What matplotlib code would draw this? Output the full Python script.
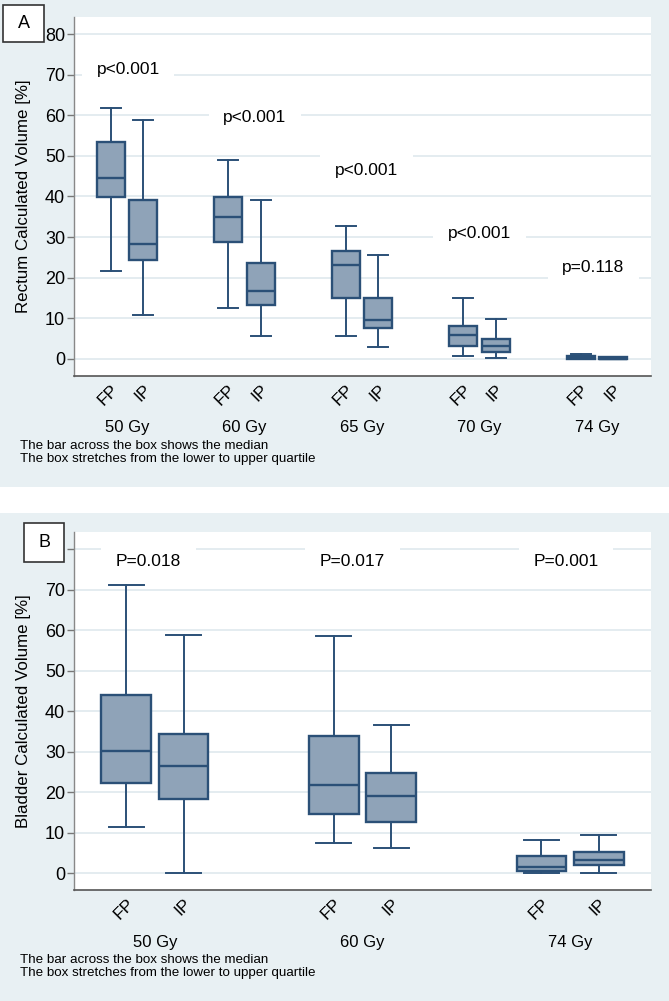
import matplotlib
matplotlib.use("Agg")
import matplotlib.pyplot as plt
from matplotlib.patches import Rectangle
import matplotlib.transforms as mtransforms

plt.rcParams['font.family'] = ['Liberation Sans', 'DejaVu Sans']

# ---------------- Data ----------------
groups_a = ['FP', 'IP']
doses_a = ['50 Gy', '60 Gy', '65 Gy', '70 Gy', '74 Gy']
rect_fp_low = [21.7, 12.5, 5.7, 0.7, 0.0]
rect_fp_q1 = [39.8, 28.8, 14.9, 3.3, 0.0]
rect_fp_med = [44.5, 35.0, 23.1, 5.9, 0.3]
rect_fp_q3 = [53.3, 39.8, 26.7, 8.1, 0.8]
rect_fp_high = [61.9, 48.9, 32.8, 14.9, 1.1]
rect_ip_low = [10.7, 5.7, 3.0, 0.2, 0.0]
rect_ip_q1 = [24.4, 13.3, 7.7, 1.8, 0.0]
rect_ip_med = [28.3, 16.7, 9.6, 3.3, 0.1]
rect_ip_q3 = [39.1, 23.7, 15.1, 4.9, 0.5]
rect_ip_high = [58.9, 39.2, 25.6, 9.9, 0.5]
pvals_a = ['p<0.001', 'p<0.001', 'p<0.001', 'p<0.001', 'p=0.118']

doses_b = ['50 Gy', '60 Gy', '74 Gy']
blad_fp_low = [11.4, 7.6, 0.0]
blad_fp_q1 = [22.4, 14.7, 0.6]
blad_fp_med = [30.3, 21.9, 1.5]
blad_fp_q3 = [44.0, 33.9, 4.3]
blad_fp_high = [71.2, 58.6, 8.2]
blad_ip_low = [0.0, 6.2, 0.2]
blad_ip_q1 = [18.4, 12.7, 2.1]
blad_ip_med = [26.5, 19.2, 3.3]
blad_ip_q3 = [34.4, 24.8, 5.2]
blad_ip_high = [58.8, 36.6, 9.5]
pvals_b = ['P=0.018', 'P=0.017', 'P=0.001']

yticks = [0, 10, 20, 30, 40, 50, 60, 70, 80]
ylabels_a = ['0', '10', '20', '30', '40', '50', '60', '70', '80']
ylabels_b = ['0', '10', '20', '30', '40', '50', '60', '70', '']  # 80 hidden behind "B"

# label placement (layout)
pos_a = [(1.01, 71.2), (2.09, 59.5), (3.04, 46.3), (4.0, 30.8), (4.97, 22.5)]
pos_b = [(0.97, 77.0), (1.95, 77.0), (2.98, 77.0)]

footnote = ["The bar across the box shows the median",
            "The box stretches from the lower to upper quartile"]

# ---------------- Style ----------------
W, H = 669, 1001
BG = '#e8f0f3'
FACE = '#8fa3b8'
EDGE = '#2b5077'
GRID = '#e2ebef'

fig = plt.figure(figsize=(W / 100, H / 100), dpi=100)
fig.patch.set_facecolor('white')

# panel backgrounds
fig.patches.append(Rectangle((0, 1 - 487 / H), 1, 487 / H, transform=fig.transFigure,
                             facecolor=BG, edgecolor='none', zorder=-10))
fig.patches.append(Rectangle((0, 0), 1, (H - 513) / H, transform=fig.transFigure,
                             facecolor=BG, edgecolor='none', zorder=-10))


def make_stats(low, q1, med, q3, high):
    return [dict(whislo=a, q1=b, med=c, q3=d, whishi=e, fliers=[])
            for a, b, c, d, e in zip(low, q1, med, q3, high)]


def draw_panel(rect_px, ylim, stats_fp, stats_ip, doses, pvals, ppos, ylabel, ytl, foot_y):
    l, t, r, b = rect_px
    ax = fig.add_axes([l / W, 1 - b / H, (r - l) / W, (b - t) / H])
    ax.set_facecolor('white')
    n = len(doses)
    centers = list(range(1, n + 1))
    off = 0.138
    pos_fp = [c - off for c in centers]
    pos_ip = [c + off for c in centers]
    common = dict(widths=0.24, capwidths=0.17, patch_artist=True, showfliers=False,
                  boxprops=dict(facecolor=FACE, edgecolor=EDGE, linewidth=1.7),
                  medianprops=dict(color=EDGE, linewidth=1.7),
                  whiskerprops=dict(color=EDGE, linewidth=1.4),
                  capprops=dict(color=EDGE, linewidth=1.4),
                  manage_ticks=False, zorder=3)
    ax.bxp(stats_fp, positions=pos_fp, **common)
    ax.bxp(stats_ip, positions=pos_ip, **common)

    ax.set_xlim(0.55 if n == 5 else 0.61, n + 0.46 if n == 5 else n + 0.39)
    ax.set_ylim(*ylim)
    ax.set_yticks(yticks)
    ax.set_yticklabels(ytl)
    ax.yaxis.grid(True, color=GRID, linewidth=1.3, zorder=0)
    ax.set_axisbelow(True)
    ax.tick_params(axis='y', direction='out', length=5, width=1, color='#777777',
                   labelsize=13, pad=1.5)
    ticks = []
    labels = []
    for a, c in zip(pos_fp, pos_ip):
        ticks += [a, c]
        labels += groups_a
    ax.set_xticks(ticks)
    ax.set_xticklabels(labels, rotation=45, ha='right', va='top', rotation_mode='anchor',
                       fontsize=12.5)
    ax.tick_params(axis='x', length=0, pad=4)
    for s in ['top', 'right']:
        ax.spines[s].set_visible(False)
    ax.spines['left'].set_color('#888888')
    ax.spines['bottom'].set_color('#555555')
    ax.spines['left'].set_linewidth(1)
    ax.spines['bottom'].set_linewidth(1.2)

    ax.set_ylabel(ylabel, fontsize=12.2)
    ax.yaxis.set_label_coords((31 - l) / (r - l), 0.5)

    trans = mtransforms.blended_transform_factory(ax.transData, ax.transAxes)
    gy = (b - (b + 52)) / (b - t)
    for c, d in zip(centers, doses):
        ax.text(c, gy, d, transform=trans, ha='center', va='center', fontsize=12)

    for (x, y), p in zip(ppos, pvals):
        ax.text(x, y, p, ha='center', va='center', fontsize=12.5, zorder=4,
                bbox=dict(boxstyle='square,pad=0.85', facecolor='white', edgecolor='none'))

    for i, line in enumerate(foot_y):
        fig.text(20 / W, 1 - line / H, footnote[i], ha='left', va='center', fontsize=9.6)
    return ax


draw_panel((74, 17, 651, 376), (-4.2, 84.2),
           make_stats(rect_fp_low, rect_fp_q1, rect_fp_med, rect_fp_q3, rect_fp_high),
           make_stats(rect_ip_low, rect_ip_q1, rect_ip_med, rect_ip_q3, rect_ip_high),
           doses_a, pvals_a, pos_a, 'Rectum Calculated Volume [%]', ylabels_a, [446, 459])

draw_panel((74, 532, 651, 890), (-4.1, 84.2),
           make_stats(blad_fp_low, blad_fp_q1, blad_fp_med, blad_fp_q3, blad_fp_high),
           make_stats(blad_ip_low, blad_ip_q1, blad_ip_med, blad_ip_q3, blad_ip_high),
           doses_b, pvals_b, pos_b, 'Bladder Calculated Volume [%]', ylabels_b, [960, 973])

# panel letter boxes
for (x0, y0, x1, y1, letter) in [(3, 5, 44, 42, 'A'), (24, 523, 64, 562, 'B')]:
    fig.patches.append(Rectangle((x0 / W, 1 - y1 / H), (x1 - x0) / W, (y1 - y0) / H,
                                 transform=fig.transFigure, facecolor='white',
                                 edgecolor='#333333', linewidth=1.2, zorder=5))
    fig.text((x0 + x1) / 2 / W, 1 - (y0 + y1) / 2 / H, letter, ha='center', va='center',
             fontsize=13, zorder=6)

fig.savefig('out.png', dpi=100)
